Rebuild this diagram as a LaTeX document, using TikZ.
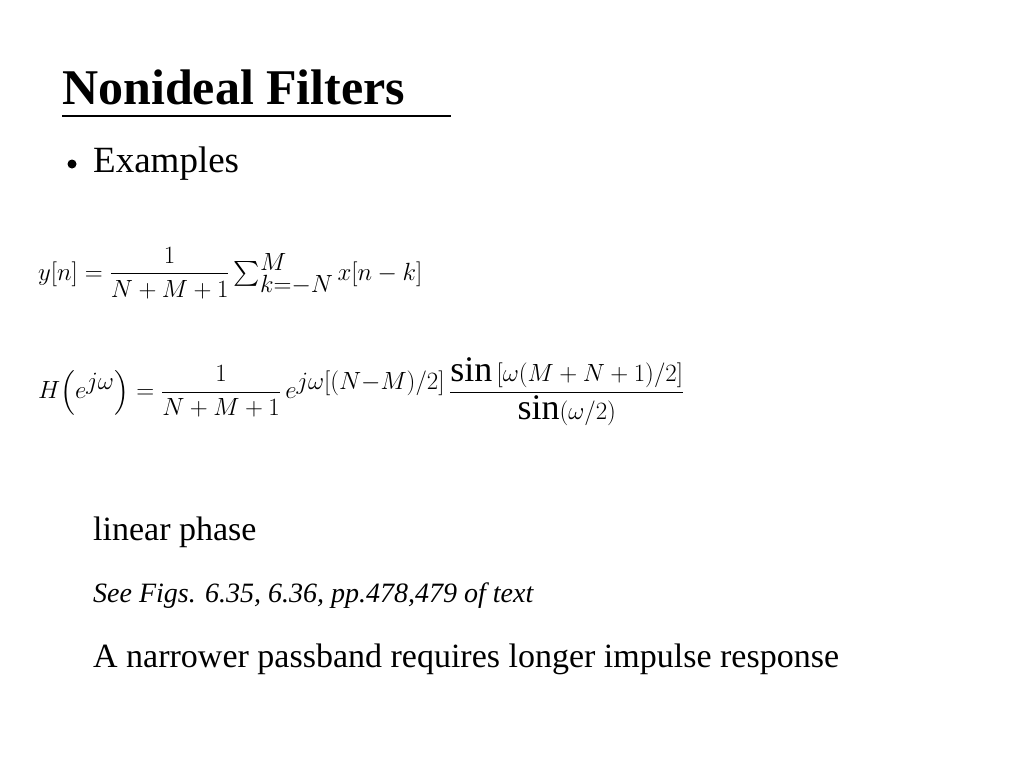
\documentclass[tikz,border=0pt]{standalone}
\usepackage{amsmath}
\usepackage{fontspec}
\setmainfont{Liberation Serif}
\begin{document}
\begin{tikzpicture}[x=1pt,y=-1pt,
  txt/.style={anchor=base west,inner sep=0pt}]
\useasboundingbox (0,0) rectangle (1024,768);
\node[txt] (title) at (62,104) {\fontsize{50}{56}\selectfont\bfseries Nonideal Filters};
\draw[line width=1.5pt] (62,116) -- (451,116);
\fill (72,164) circle (4.5);
\node[txt] (ex) at (93,172) {\fontsize{37}{42}\selectfont Examples};
\node[txt] (eq1) at (38,280) {\fontsize{36}{42}\selectfont $y[n] = \dfrac{1}{N+M+1}\sum_{k=-N}^{M} x[n-k]$};
\node[anchor=west,inner sep=0pt] (eq2) at (38,392) {\fontsize{36}{42}\selectfont $H\!\left(e^{j\omega}\right) = \dfrac{1}{N+M+1}\, e^{j\omega[(N-M)/2]}\, \dfrac{\sin\left[\omega(M+N+1)/2\right]}{\sin(\omega/2)}$};
\node[txt] (lp) at (93,540) {\fontsize{34}{40}\selectfont linear phase};
\node[txt] (see) at (93,602) {\fontsize{28}{34}\selectfont\itshape See Figs. 6.35, 6.36, pp.478,479 of text};
\node[txt] (nar) at (93,667) {\fontsize{34}{40}\selectfont A narrower passband requires longer impulse response};
\end{tikzpicture}
\end{document}
